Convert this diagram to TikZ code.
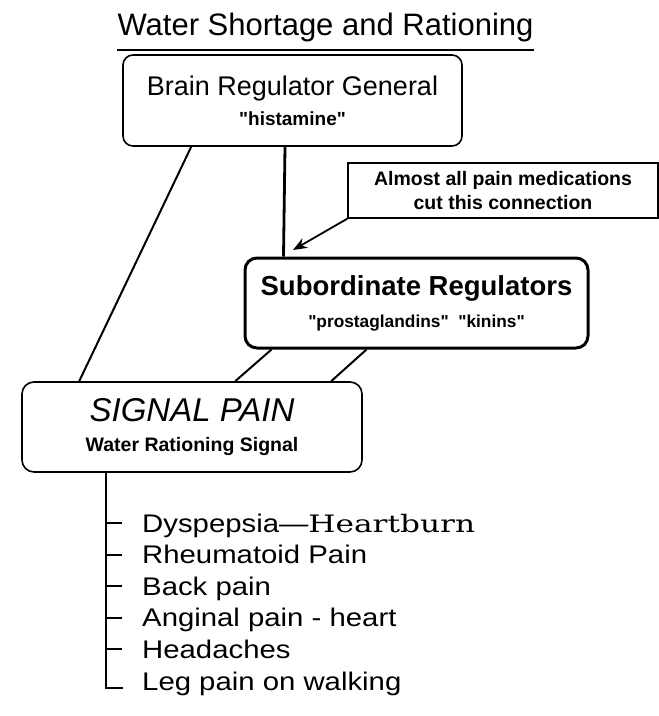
\documentclass[tikz,border=0pt]{standalone}
\usepackage{fontspec}
\setmainfont{Liberation Sans}[Ligatures=TeXOff]
\newfontfamily\listfont[FakeStretch=1.15]{Liberation Sans}
\newfontfamily\burnfont[FakeStretch=1.3]{DejaVu Serif}
\usetikzlibrary{arrows.meta}

\begin{document}
\begin{tikzpicture}[x=1pt,y=-1pt,
		regbox/.style={draw, rounded corners=10pt, line width=1.6pt, align=center, inner sep=0pt},
		notebox/.style={draw, line width=1.4pt, align=center, inner sep=0pt},
		link/.style={line width=2pt},
		painitem/.style={anchor=base west, inner sep=0pt, font=\listfont\fontsize{25.5}{30}\selectfont}]
		\useasboundingbox (0,0) rectangle (659,716);

		\node[anchor=base, inner sep=0pt] (title) at (325.5,35) {\fontsize{31}{36}\selectfont Water Shortage and Rationing};
		\draw[line width=1.6pt] ([yshift=-15pt]title.base west) -- ([yshift=-15pt]title.base east);

		\node[regbox, minimum width=339pt, minimum height=91pt, font=\fontsize{27}{30}\selectfont] (brain) at (292.5,100.5) {Brain Regulator General\\ {\fontsize{19}{30}\selectfont\bfseries "histamine"}};
		\node[notebox, minimum width=310pt, minimum height=55pt, font=\fontsize{19.5}{24}\selectfont\bfseries] (note) at (503,190.5) {Almost all pain medications\\ cut this connection};
		\node[regbox, line width=3pt, rounded corners=12pt, minimum width=343pt, minimum height=90pt, font=\fontsize{27.5}{32}\selectfont\bfseries] (sub) at (416.5,303) {Subordinate Regulators\\ {\fontsize{17.3}{32}\selectfont "prostaglandins"\ \ "kinins"}};
		\node[regbox, rounded corners=12pt, minimum width=340pt, minimum height=90pt, font=\fontsize{33}{30}\selectfont] (signal) at (192,427) {{\itshape SIGNAL PAIN}\\ {\fontsize{19.5}{30}\selectfont\bfseries Water Rationing Signal}};

		\draw[link] ([xshift=69pt]brain.south west) -- ([xshift=58pt]signal.north west);
		\draw[link, line width=2.8pt] ([xshift=-7.5pt]brain.south) -- ([xshift=40pt]sub.north west);
		\draw[link] ([xshift=28pt]sub.south west) -- ([xshift=214pt]signal.north west);
		\draw[link] ([xshift=123pt]sub.south west) -- ([xshift=310pt]signal.north west);

		\coordinate (cut) at (293,250);
		\draw[line width=1.8pt, -{Stealth[length=14pt, width=11pt]}] (note.south west) -- (cut);

		\coordinate (trunk) at ([xshift=85pt]signal.south west);
		\foreach \id/\txt [count=\i from 0] in {dys/{Dyspepsia—{\burnfont\fontsize{24}{30}\selectfont Heartburn}}, rheu/Rheumatoid Pain, back/Back pain, angi/Anginal pain - heart, head/Headaches, leg/Leg pain on walking}
			\node[painitem] (\id) at (142,{532+31.6*\i}) {\txt};

		\foreach \id in {dys,rheu,back,angi,head}
			\draw[link] (trunk |- \id.base) ++(0,-9) -- ++(16,0);
		\draw[link] (trunk) |- ([xshift=-19pt,yshift=2pt]leg.base west);
\end{tikzpicture}
\end{document}
